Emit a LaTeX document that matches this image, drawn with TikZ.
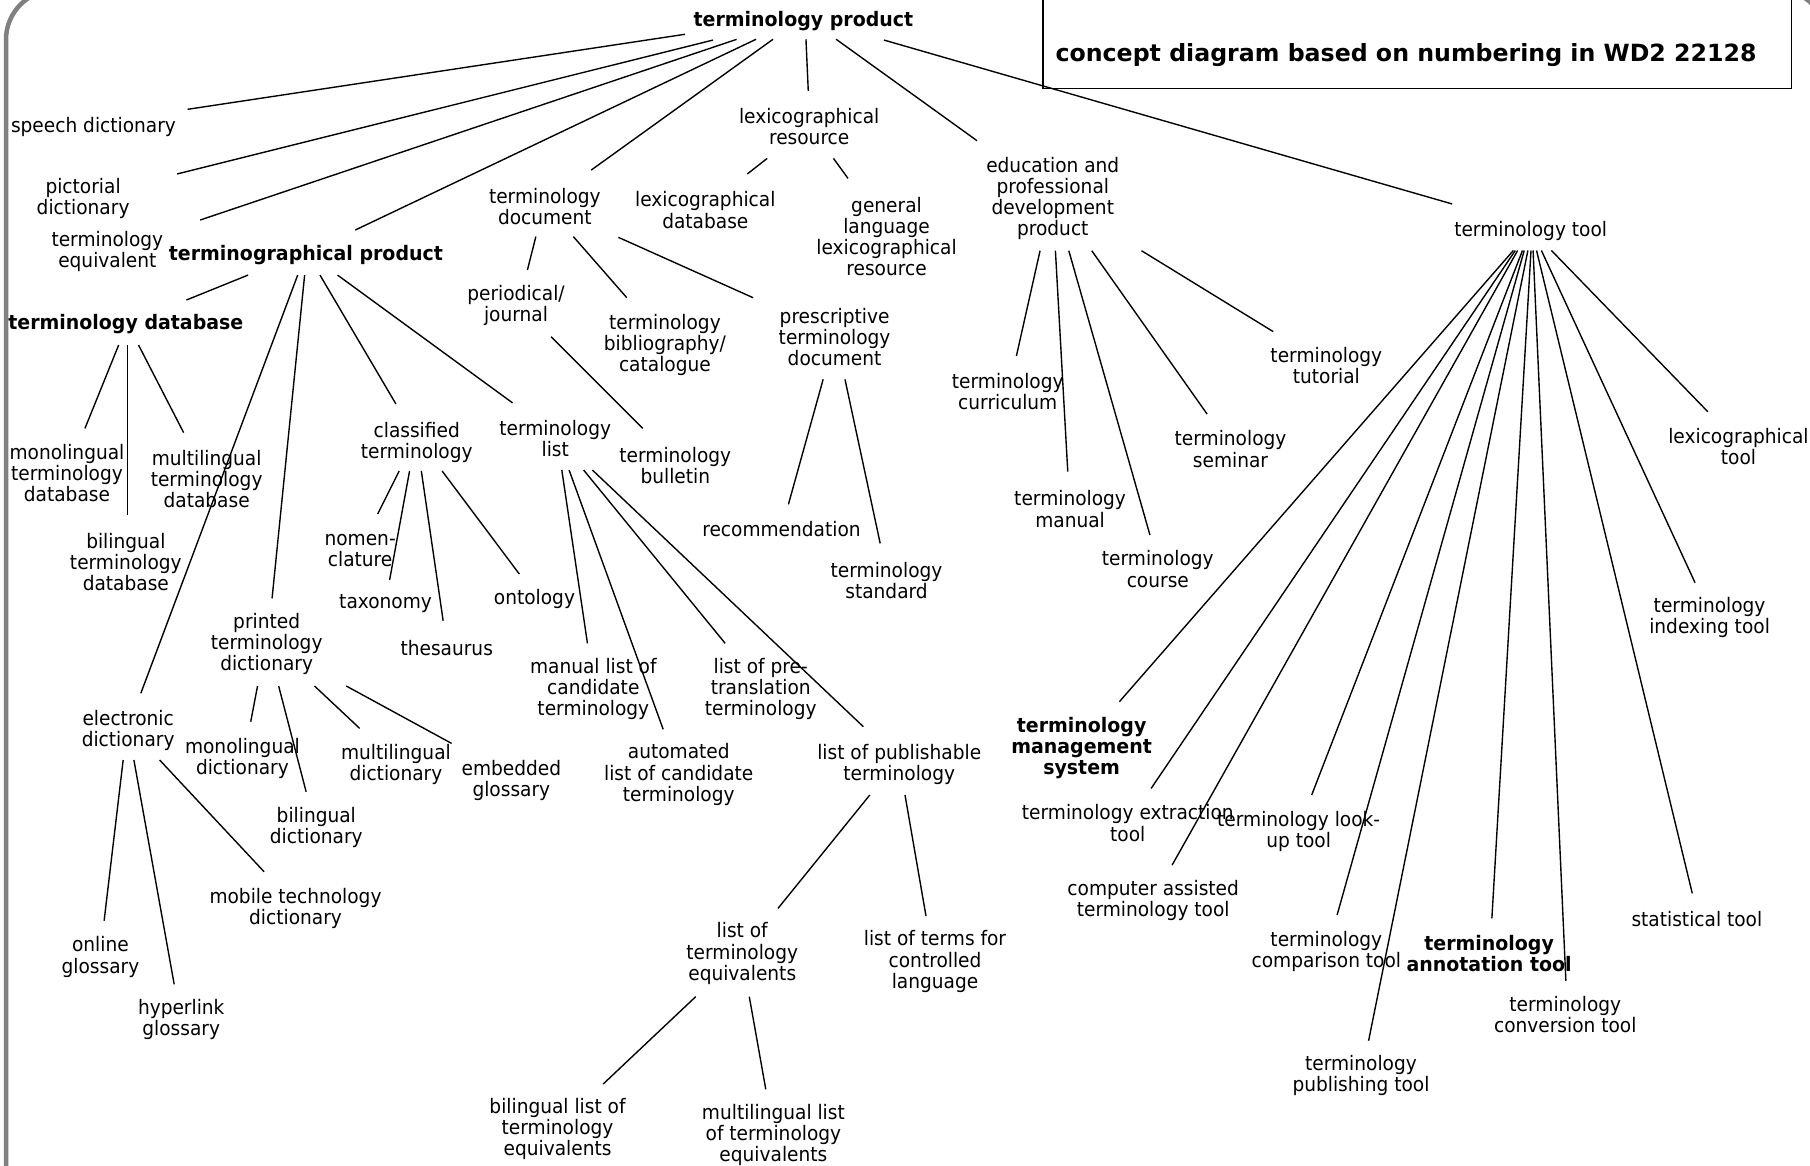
\documentclass[tikz,border=0pt]{standalone}
\usepackage{fontspec}
\setmainfont{DejaVu Sans}[FakeStretch=0.93,BoldFeatures={FakeStretch=0.95}]
\newfontfamily\titlefont{DejaVu Sans}
\newcommand\conn[4]{\draw[conn] ([shift={(#2)}]#1.center) -- ([shift={(#4)}]#3.center);}
\begin{document}
\begin{tikzpicture}[x=1pt,y=-1pt,
  lbl/.style={inner sep=0pt,align=center,font=\fontsize{17.3}{18.3}\selectfont},
  blbl/.style={lbl,font=\fontsize{17.3}{18.3}\selectfont\bfseries},
  conn/.style={line width=1.2pt,black}]
\useasboundingbox (0,0) rectangle (1568,1010);
\clip (0,0) rectangle (1568,1010);
% outer frame
\draw[gray,line width=3.9pt,rounded corners=43pt] (5.2,-8.7) rectangle (1583,1200);
% title box
\draw[line width=1.2pt] (903.7,-5) rectangle (1552,76.5);
\node[inner sep=0pt,font=\titlefont\bfseries\fontsize{20.5}{22}\selectfont] (title) at (1218,48) {concept diagram based on numbering in WD2 22128};

% nodes
\node[blbl] (root) at (696,18) {terminology product};
\node[lbl] (speech) at (81,110) {speech dictionary};
\node[lbl] (pict) at (72,172) {pictorial\\dictionary};
\node[lbl] (teq) at (93,218) {terminology\\equivalent};
\node[blbl] (tgp) at (265,221) {terminographical product};
\node[blbl] (tdb) at (109,281) {terminology database};
\node[lbl] (mono) at (58,410) {monolingual\\terminology\\database};
\node[lbl] (multi) at (179,415) {multilingual\\terminology\\database};
\node[lbl] (bili) at (109,487) {bilingual\\terminology\\database};
\node[lbl] (elec) at (111,633) {electronic\\dictionary};
\node[lbl] (printed) at (231,558) {printed\\terminology\\dictionary};
\node[lbl] (monod) at (210,657) {monolingual\\dictionary};
\node[lbl] (multid) at (343,662) {multilingual\\dictionary};
\node[lbl] (embed) at (443,676) {embedded\\glossary};
\node[lbl] (bilid) at (274,717) {bilingual\\dictionary};
\node[lbl] (mobile) at (256,787) {mobile technology\\dictionary};
\node[lbl] (online) at (87,829) {online\\glossary};
\node[lbl] (hyper) at (157,883) {hyperlink\\glossary};
\node[lbl] (classif) at (361,383) {classified\\terminology};
\node[lbl] (nomen) at (312,477) {nomen-\\clature};
\node[lbl] (taxo) at (334,523) {taxonomy};
\node[lbl] (thes) at (387,561) {thesaurus};
\node[lbl] (onto) at (463,519) {ontology};
\node[lbl] (tlist) at (481,380) {terminology\\list};
\node[lbl] (manual) at (514,597) {manual list of\\candidate\\terminology};
\node[lbl] (auto) at (588,671) {automated\\list of candidate\\terminology};
\node[lbl] (pretr) at (659,597) {list of pre-\\translation\\terminology};
\node[lbl] (publ) at (779,662) {list of publishable\\terminology};
\node[lbl] (lequiv) at (643,826) {list of\\terminology\\equivalents};
\node[lbl] (lterms) at (810,833) {list of terms for\\controlled\\language};
\node[lbl] (bilist) at (483,978) {bilingual list of\\terminology\\equivalents};
\node[lbl] (multilist) at (670,983) {multilingual list\\of terminology\\equivalents};
\node[lbl] (tdoc) at (472,179) {terminology\\document};
\node[lbl] (period) at (447,265) {periodical/\\journal};
\node[lbl] (biblio) at (576,299) {terminology\\bibliography/\\catalogue};
\node[lbl] (prescr) at (723,292) {prescriptive\\terminology\\document};
\node[lbl] (bulletin) at (585,403) {terminology\\bulletin};
\node[lbl] (recom) at (677,458) {recommendation};
\node[lbl] (standard) at (768,503) {terminology\\standard};
\node[lbl] (lexres) at (701,110) {lexicographical\\resource};
\node[lbl] (lexdb) at (611,182) {lexicographical\\database};
\node[lbl] (genlang) at (768,205) {general\\language\\lexicographical\\resource};
\node[lbl] (edu) at (912,172) {education and\\professional\\development\\product};
\node[lbl] (curric) at (873,339) {terminology\\curriculum};
\node[lbl] (tmanual) at (927,441) {terminology\\manual};
\node[lbl] (course) at (1003,493) {terminology\\course};
\node[lbl] (seminar) at (1066,389) {terminology\\seminar};
\node[lbl] (tutorial) at (1149,317) {terminology\\tutorial};
\node[lbl] (tool) at (1326,200) {terminology tool};
\node[lbl] (lextool) at (1506,387) {lexicographical\\tool};
\node[lbl] (indexing) at (1481,535) {terminology\\indexing tool};
\node[lbl] (stat) at (1470,796) {statistical tool};
\node[lbl] (conv) at (1356,879) {terminology\\conversion tool};
\node[blbl] (annot) at (1290,826) {terminology\\annotation tool};
\node[lbl] (publish) at (1179,932) {terminology\\publishing tool};
\node[lbl] (compar) at (1149,824) {terminology\\comparison tool};
\node[lbl] (cat) at (999,780) {computer assisted\\terminology tool};
\node[lbl] (lookup) at (1125,720) {terminology look-\\up tool};
\node[lbl] (extract) at (977,713) {terminology extraction\\tool};
\node[blbl] (tms) at (937,648) {terminology\\management\\system};

% connectors from the root
\conn{root}{-102.6,11.7}{speech}{81.5,-15.3}
\conn{root}{-78.4,16.7}{pict}{81.5,-21.3}
\conn{root}{-57.9,16.1}{teq}{80.4,-27.4}
\conn{root}{-41,16}{tgp}{42.7,-21.7}
\conn{root}{-26.3,16}{tdoc}{40.2,-31.7}
\conn{root}{2.2,16}{lexres}{-0.8,-31.2}
\conn{root}{28.3,16}{edu}{-65.6,-50.1}
\conn{root}{69.8,16.7}{tool}{-68,-23.3}

% terminographical product
\conn{tgp}{-50.1,17.3}{tdb}{52.5,-21.1}
\conn{tgp}{-7.1,17.3}{elec}{11,-32.4}
\conn{tgp}{-1.1,17.3}{printed}{4.7,-39.7}
\conn{tgp}{12.2,17.3}{classif}{-18,-33}
\conn{tgp}{27.4,17.3}{tlist}{-37,-31}

% terminology database
\conn{tdb}{-6.2,17.9}{mono}{15.6,-38.9}
\conn{tdb}{1.4,17.9}{bili}{1.4,-40.8}
\conn{tdb}{11,17.9}{multi}{-19.9,-40.2}

% printed terminology dictionary
\conn{printed}{-7.9,36.3}{monod}{7.2,-31.8}
\conn{printed}{10.4,36.3}{bilid}{-8.8,-31.1}
\conn{printed}{41.5,36.3}{multid}{-31.4,-31}
\conn{printed}{69,36.3}{embed}{-51.8,-32}

% electronic dictionary
\conn{elec}{-4.3,25.4}{online}{3.2,-31.4}
\conn{elec}{5,25.4}{hyper}{-6.1,-30.3}
\conn{elec}{27.3,25.4}{mobile}{-27.2,-31.8}

% classified terminology
\conn{classif}{-15.2,25}{nomen}{15.2,-31.7}
\conn{classif}{-6.2,25}{taxo}{3.5,-20.5}
\conn{classif}{4,25}{thes}{-3.1,-23.3}
\conn{classif}{22,25}{onto}{-13.1,-21.7}

% terminology list
\conn{tlist}{5.7,27.2}{manual}{-5.1,-39.7}
\conn{tlist}{12,27.2}{auto}{-13.5,-39.2}
\conn{tlist}{24.6,27.2}{pretr}{-30.8,-39.7}
\conn{tlist}{32.2,27.2}{publ}{-31.1,-32.5}
\conn{publ}{-25.5,26.7}{lequiv}{31,-39.1}
\conn{publ}{5,26.7}{lterms}{-7.8,-39.4}
\conn{lequiv}{-40.3,37.4}{bilist}{39.5,-38.9}
\conn{lequiv}{6.1,37.4}{multilist}{-6.6,-39.3}

% terminology document
\conn{tdoc}{-7.8,26}{period}{9.9,-31.1}
\conn{tdoc}{24.7,26}{biblio}{-33,-41.1}
\conn{tdoc}{63.7,26.6}{prescr}{-70.6,-34.1}
\conn{period}{30.4,26.7}{bulletin}{-28.1,-31.9}
\conn{prescr}{-9.9,36.6}{recom}{6,-21.1}
\conn{prescr}{9,36.6}{standard}{-5.5,-32.3}

% lexicographical resource
\conn{lexres}{-36.4,27.2}{lexdb}{36.4,-31.3}
\conn{lexres}{21,27.2}{genlang}{-33.4,-50.5}

% education and professional development product
\conn{edu}{-11,45.2}{curric}{7.5,-30.6}
\conn{edu}{2.3,45.2}{tmanual}{-2,-32.4}
\conn{edu}{13.9,45.2}{course}{-6.8,-29.5}
\conn{edu}{33.8,45.2}{seminar}{-20.3,-30.3}
\conn{edu}{76.9,45.2}{tutorial}{-46,-29.7}

% terminology tool
\conn{tool}{-15,17}{tms}{32.7,-40.1}
\conn{tool}{-13.3,17}{extract}{20.2,-30}
\conn{tool}{-11.3,17}{cat}{16.4,-30.6}
\conn{tool}{-7.1,17}{lookup}{11.3,-31.3}
\conn{tool}{-5.6,17}{compar}{9.3,-31.3}
\conn{tool}{-2.4,17}{publish}{6.6,-30.4}
\conn{tool}{0.3,17}{annot}{2.4,-30.4}
\conn{tool}{2.1,17}{conv}{0.5,-29.4}
\conn{tool}{5.1,17}{stat}{-4,-22.1}
\conn{tool}{9.3,17}{indexing}{-12.6,-30.2}
\conn{tool}{18,17}{lextool}{-26.5,-30.3}
\end{tikzpicture}
\end{document}
